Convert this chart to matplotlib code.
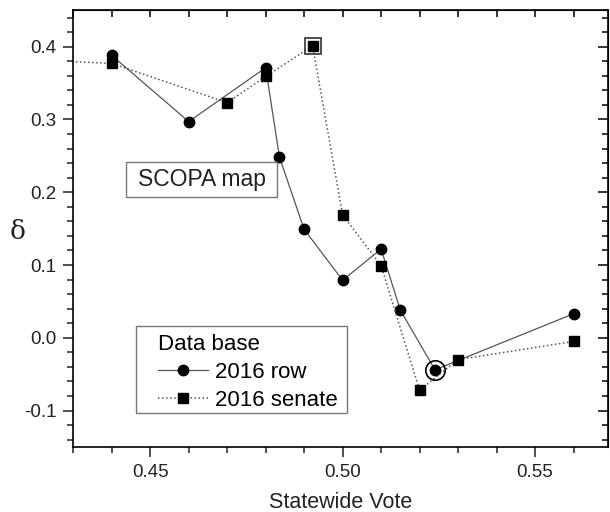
import numpy as np
import matplotlib.pyplot as plt
from matplotlib.ticker import MultipleLocator
from matplotlib.patches import Rectangle

plt.rcParams['font.family'] = ['Liberation Sans', 'DejaVu Sans']

# 2016 row (circles)
row_x = [0.44, 0.46, 0.48, 0.4836, 0.49, 0.50, 0.51, 0.515, 0.524, 0.56]
row_y = [0.388, 0.297, 0.371, 0.248, 0.149, 0.079, 0.122, 0.038, -0.044, 0.033]

# 2016 senate (squares), first point lies left of the visible range
sen_x = [0.41, 0.44, 0.47, 0.48, 0.4922, 0.50, 0.51, 0.52, 0.53, 0.56]
sen_y = [0.384, 0.377, 0.323, 0.359, 0.401, 0.169, 0.099, -0.072, -0.030, -0.005]

# highlighted points
hl_row = (0.524, -0.044)
hl_sen = (0.4922, 0.401)

fig = plt.figure(figsize=(6.1, 5.12), dpi=100)
ax = fig.add_axes([0.12, 0.127, 0.877, 0.853])

ax.plot(row_x, row_y, '-', color='#555555', lw=0.9, marker='o', ms=7.5,
        mfc='black', mec='black', label='2016 row')
ax.plot(sen_x, sen_y, ':', color='#555555', lw=1.1, marker='s', ms=6.5,
        mfc='black', mec='black', label='2016 senate')

ax.plot(*hl_row, 'o', ms=14, mfc='none', mec='black', mew=1.2)
ax.plot(*hl_sen, 's', ms=12, mfc='none', mec='#333333', mew=1.2)

ax.set_xlim(0.43, 0.569)
ax.set_ylim(-0.15, 0.45)
ax.xaxis.set_major_locator(MultipleLocator(0.05))
ax.xaxis.set_minor_locator(MultipleLocator(0.01))
ax.yaxis.set_major_locator(MultipleLocator(0.1))
ax.yaxis.set_minor_locator(MultipleLocator(0.02))
ax.xaxis.set_major_formatter(plt.FuncFormatter(lambda v, p: '%.2f' % v))
ax.yaxis.set_major_formatter(plt.FuncFormatter(lambda v, p: '%.1f' % v))

ax.tick_params(which='both', direction='out', labelsize=13.5, width=1.1,
               top=False, right=False, colors='#222222')
ax.tick_params(which='major', length=7, pad=5)
ax.tick_params(which='minor', length=4)
ax.tick_params(axis='x', pad=5)

# mirrored inward ticks on top and right
ax_t = ax.secondary_xaxis('top')
ax_t.xaxis.set_major_locator(MultipleLocator(0.01))
ax_t.tick_params(direction='in', length=5, width=1.1, labeltop=False)
ax_r = ax.secondary_yaxis('right')
ax_r.yaxis.set_major_locator(MultipleLocator(0.1))
ax_r.yaxis.set_minor_locator(MultipleLocator(0.02))
ax_r.tick_params(which='major', direction='in', length=7, width=1.1, labelright=False)
ax_r.tick_params(which='minor', direction='in', length=4, width=1.1)

for s in ax.spines.values():
    s.set_linewidth(1.2)

ax.set_xlabel('Statewide Vote', fontsize=15.5, color='#222222')
ax.xaxis.set_label_coords(0.5, -0.103)
ax.set_ylabel('δ', fontsize=19, color='#222222', rotation=0,
              family=['DejaVu Serif'])
ax.yaxis.set_label_coords(-0.103, 0.464)

# SCOPA map annotation box
ax.add_patch(Rectangle((0.099, 0.572), 0.282, 0.08, transform=ax.transAxes,
                       fc='white', ec='#777777', lw=1, zorder=3))
ax.text(0.24, 0.612, 'SCOPA map', transform=ax.transAxes, fontsize=16.5,
        ha='center', va='center', color='#222222', zorder=4)

# legend frame drawn separately so the inner padding matches
ax.add_patch(Rectangle((0.1178, 0.0778), 0.394, 0.199, transform=ax.transAxes,
                       fc='white', ec='#777777', lw=1, zorder=4))
leg = ax.legend(loc='lower left', bbox_to_anchor=(0.144, 0.064), title='Data base',
                fontsize=16, title_fontsize=16, frameon=False,
                handlelength=2.25, borderpad=0.35,
                labelspacing=0.32, handletextpad=0.3, borderaxespad=0)
leg._legend_box.align = 'left'
leg.set_zorder(5)

fig.savefig('out.png', dpi=100)
